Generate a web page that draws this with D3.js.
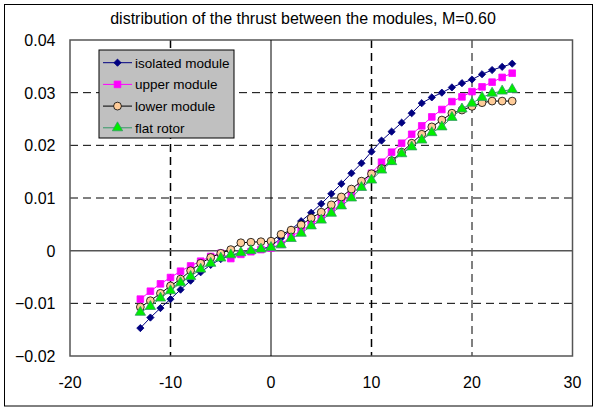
<!DOCTYPE html>
<html lang="en">
<head>
    <meta charset="UTF-8">
    <title>Thrust distribution</title>
    <script src="https://d3js.org/d3.v7.min.js"></script>
    <style>
        body { margin: 0; background: #fff; }
        svg { font-family: "Liberation Sans", Arial, sans-serif; }
        .grid line { stroke: #000; stroke-dasharray: 8,5; stroke-width: 1; }
        .tick-label { font-size: 16px; fill: #000; }
    </style>
</head>
<body>
<script>
    const width = 594;
    const height = 408;

    const xValues = d3.range(-13, 25);
    const isolated = [-0.0147, -0.0127, -0.0109, -0.0092, -0.0074, -0.0057, -0.0041, -0.0027, -0.0016, -0.0009,
        -0.0004, 0.0000, 0.0003, 0.0008, 0.0024, 0.0040, 0.0056, 0.0072, 0.0089, 0.0108,
        0.0127, 0.0147, 0.0166, 0.0188, 0.0209, 0.0226, 0.0243, 0.0261, 0.0280, 0.0291,
        0.0300, 0.0310, 0.0318, 0.0325, 0.0335, 0.0343, 0.0349, 0.0355];
    const upper = [-0.0092, -0.0077, -0.0063, -0.0051, -0.0039, -0.0029, -0.0020, -0.0011, -0.0005, -0.0015,
        -0.0007, -0.0002, 0.0002, 0.0005, 0.0012, 0.0027, 0.0038, 0.0050, 0.0062, 0.0074,
        0.0090, 0.0106, 0.0125, 0.0147, 0.0168, 0.0187, 0.0204, 0.0221, 0.0237, 0.0254,
        0.0268, 0.0283, 0.0292, 0.0302, 0.0311, 0.0320, 0.0329, 0.0337];
    const lower = [-0.0107, -0.0095, -0.0081, -0.0067, -0.0054, -0.0038, -0.0024, -0.0013, -0.0005, 0.0002,
        0.0015, 0.0016, 0.0017, 0.0018, 0.0031, 0.0039, 0.0049, 0.0062, 0.0073, 0.0087,
        0.0102, 0.0117, 0.0132, 0.0146, 0.0156, 0.0171, 0.0187, 0.0204, 0.0221, 0.0235,
        0.0248, 0.0261, 0.0267, 0.0274, 0.0281, 0.0284, 0.0284, 0.0284];
    const flat = [-0.0117, -0.0106, -0.0090, -0.0076, -0.0061, -0.0049, -0.0035, -0.0024, -0.0014, -0.0008,
        -0.0004, 0.0000, 0.0003, 0.0006, 0.0011, 0.0023, 0.0033, 0.0047, 0.0058, 0.0071,
        0.0085, 0.0100, 0.0120, 0.0134, 0.0153, 0.0169, 0.0184, 0.0197, 0.0210, 0.0224,
        0.0235, 0.0253, 0.0269, 0.0280, 0.0291, 0.0299, 0.0303, 0.0306];

    const xTicks = [-20, -10, 0, 10, 20, 30];
    const yTicks = [-0.02, -0.01, 0, 0.01, 0.02, 0.03, 0.04];
    const seriesNames = ["isolated module", "upper module", "lower module", "flat rotor"];
    const title = "distribution of the thrust between the modules, M=0.60";

    // rotate 0 for most markers, 45 turns a square into the Excel-style diamond
    const series = [
        {name: seriesNames[0], values: isolated, line: "#000080", fill: "#000080", stroke: "#000080", sym: d3.symbolSquare, size: 26, rot: 45},
        {name: seriesNames[1], values: upper, line: "#ff00ff", fill: "#ff00ff", stroke: "#ff00ff", sym: d3.symbolSquare, size: 44, rot: 0},
        {name: seriesNames[2], values: lower, line: "#000000", fill: "#ffcc99", stroke: "#000000", sym: d3.symbolCircle, size: 48, rot: 0},
        {name: seriesNames[3], values: flat, line: "#339966", fill: "#00ee00", stroke: "#339966", sym: d3.symbolTriangle, size: 46, rot: 0}
    ];

    const plot = {left: 70, right: 572.5, top: 40, bottom: 356};

    const x = d3.scaleLinear().domain([-20, 30]).range([plot.left, plot.right]);
    const y = d3.scaleLinear().domain([-0.02, 0.04]).range([plot.bottom, plot.top]);

    const svg = d3.select("body").append("svg")
        .attr("width", width).attr("height", height);

    // outer chart frame
    svg.append("rect")
        .attr("x", 4.5).attr("y", 4.5)
        .attr("width", 588).attr("height", 401.5)
        .attr("fill", "#fff").attr("stroke", "#000");

    svg.append("text")
        .attr("x", 303).attr("y", 24)
        .attr("text-anchor", "middle")
        .attr("font-size", 16)
        .text(title);

    // grid lines
    const grid = svg.append("g").attr("class", "grid");
    grid.selectAll("line.h")
        .data(yTicks.filter(v => v !== 0 && v !== -0.02 && v !== 0.04))
        .enter().append("line")
        .attr("x1", plot.left).attr("x2", plot.right)
        .attr("y1", d => y(d)).attr("y2", d => y(d));
    grid.selectAll("line.v")
        .data(xTicks.filter(v => v !== 0 && v !== -20 && v !== 30))
        .enter().append("line")
        .attr("x1", d => x(d)).attr("x2", d => x(d))
        .attr("y1", plot.top).attr("y2", plot.bottom)
        .attr("stroke", d => d === 20 ? "#000" : "#666")
        .style("stroke-width", d => d === 20 ? 1 : 1.5);

    // plot frame
    svg.append("rect")
        .attr("x", plot.left).attr("y", plot.top)
        .attr("width", plot.right - plot.left).attr("height", plot.bottom - plot.top)
        .attr("fill", "none").attr("stroke", "#555").attr("stroke-width", 1.5);

    // zero axes
    svg.append("line")
        .attr("x1", plot.left).attr("x2", plot.right)
        .attr("y1", y(0)).attr("y2", y(0))
        .attr("stroke", "#555").attr("stroke-width", 1.5);
    svg.append("line")
        .attr("x1", x(0)).attr("x2", x(0))
        .attr("y1", plot.top).attr("y2", plot.bottom)
        .attr("stroke", "#000");

    // tick labels
    svg.selectAll("text.ylab")
        .data(yTicks)
        .enter().append("text")
        .attr("class", "tick-label")
        .attr("x", 55.5).attr("y", d => y(d) + 6)
        .attr("text-anchor", "end")
        .text(d => d3.format(".2f")(d).replace("0.00", "0"));
    svg.selectAll("text.xlab")
        .data(xTicks)
        .enter().append("text")
        .attr("class", "tick-label")
        .attr("x", d => x(d)).attr("y", 388)
        .attr("text-anchor", "middle")
        .text(d => d);

    // series
    const line = d3.line().x((d, i) => x(xValues[i])).y(d => y(d));
    series.forEach(s => {
        const g = svg.append("g");
        g.append("path")
            .attr("d", line(s.values))
            .attr("fill", "none")
            .attr("stroke", s.line)
            .attr("stroke-width", 1);
        g.selectAll("path.pt")
            .data(s.values)
            .enter().append("path")
            .attr("d", d3.symbol().type(s.sym).size(s.size))
            .attr("transform", (d, i) => `translate(${x(xValues[i])},${y(d)}) rotate(${s.rot})`)
            .attr("fill", s.fill)
            .attr("stroke", s.stroke)
            .attr("stroke-width", 0.8);
    });

    // legend
    const legend = svg.append("g").attr("transform", "translate(99,50)");
    legend.append("rect")
        .attr("width", 135).attr("height", 88)
        .attr("fill", "#c0c0c0").attr("stroke", "#000");
    series.forEach((s, i) => {
        const row = legend.append("g").attr("transform", `translate(0,${12.7 + i * 21.7})`);
        row.append("line")
            .attr("x1", 4).attr("x2", 33).attr("y1", 0).attr("y2", 0)
            .attr("stroke", s.line);
        row.append("path")
            .attr("d", d3.symbol().type(s.sym).size(s.size))
            .attr("transform", `translate(18.5,0) rotate(${s.rot})`)
            .attr("fill", s.fill).attr("stroke", s.stroke).attr("stroke-width", 0.8);
        row.append("text")
            .attr("x", 36).attr("y", 5)
            .attr("font-size", 13.5)
            .text(s.name);
    });
</script>
</body>
</html>
